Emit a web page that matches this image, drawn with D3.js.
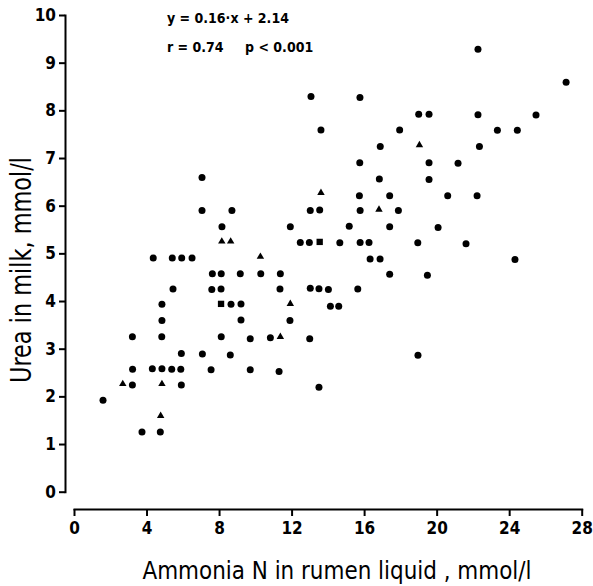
<!DOCTYPE html>
<html>
<head>
<meta charset="utf-8">
<script src="https://cdn.jsdelivr.net/npm/d3@7"></script>
<style>
  body { margin: 0; background: #fff; }
  svg text { font-family: "DejaVu Sans Condensed", "DejaVu Sans", sans-serif; fill: #000; }
  .axis path, .axis line { stroke: #000; stroke-width: 2; }
  .axis text { font-size: 17px; font-weight: bold; }
</style>
</head>
<body>
<svg id="chart" width="593" height="586"></svg>
<script>
// ammonia N (x) vs urea in milk (y)
var circlePoints = [
  [1.60,1.92],[3.22,3.25],[3.23,2.57],[3.22,2.24],[3.75,1.25],[4.37,4.90],[4.32,2.58],[4.76,1.25],
  [4.85,3.93],[4.85,3.59],[4.84,3.25],[4.85,2.58],[5.42,4.90],[5.46,4.25],[5.39,2.57],[5.94,4.90],
  [5.92,2.90],[5.89,2.57],[5.92,2.24],[6.51,4.90],[7.06,6.59],[7.06,5.90],[7.08,2.89],[7.56,2.56],
  [7.63,4.57],[7.60,4.24],[8.12,4.57],[8.16,5.56],[8.11,4.25],[8.12,3.25],[8.71,5.90],[8.66,3.93],
  [8.62,2.87],[9.17,4.57],[9.21,3.94],[9.21,3.60],[9.72,3.21],[9.72,2.56],[10.30,4.57],[10.83,3.23],
  [11.31,2.52],[11.38,4.57],[11.36,4.25],[11.93,5.56],[11.91,3.59],[12.48,5.23],[12.98,5.23],[14.66,5.22],
  [15.78,5.23],[16.27,5.23],[18.96,5.22],[21.62,5.20],[13.03,4.27],[13.51,4.26],[14.03,4.24],[15.65,4.25],
  [14.14,3.89],[14.60,3.89],[13.00,3.21],[13.51,2.19],[13.07,8.29],[15.77,8.27],[22.28,9.28],[27.14,8.59],
  [19.01,7.92],[19.58,7.92],[22.28,7.91],[25.48,7.90],[13.62,7.59],[17.96,7.59],[23.35,7.58],[24.45,7.58],
  [16.89,7.24],[22.36,7.24],[15.76,6.90],[19.58,6.90],[21.18,6.89],[16.84,6.56],[19.58,6.55],[15.74,6.21],
  [17.41,6.21],[20.61,6.21],[22.23,6.21],[13.03,5.90],[13.55,5.91],[15.78,5.90],[17.89,5.90],[15.18,5.57],
  [17.41,5.56],[20.08,5.54],[16.33,4.88],[16.88,4.88],[24.32,4.87],[17.41,4.56],[19.49,4.54],[18.97,2.86]
];
var trianglePoints = [
  [2.69,2.26],[4.85,2.26],[4.78,1.59],[8.15,5.25],[8.64,5.25],[10.28,4.93],
  [11.38,3.25],[11.93,3.94],[13.62,6.27],[16.82,5.92],[19.05,7.27]
];
var squarePoints = [[8.11,3.94],[13.55,5.24]];

var xTicks = [0, 4, 8, 12, 16, 20, 24, 28];
var yTicks = [0, 1, 2, 3, 4, 5, 6, 7, 8, 9, 10];

var xTitle = "Ammonia N in rumen liquid , mmol/l";
var yTitle = "Urea in milk, mmol/l";
var regLine = "y = 0.16\u00b7x + 2.14";
var regR = "r = 0.74";
var regP = "p < 0.001";

var svg = d3.select("#chart");

var x = d3.scaleLinear().domain([0, 28]).range([74, 581.7]);
var y = d3.scaleLinear().domain([0, 10]).range([491.7, 15]);

svg.append("g")
    .attr("class", "axis")
    .attr("transform", "translate(65,0)")
    .call(d3.axisLeft(y).tickValues(yTicks).tickSize(6).tickSizeOuter(0).tickPadding(3));

svg.append("g")
    .attr("class", "axis")
    .attr("transform", "translate(0,509)")
    .call(d3.axisBottom(x).tickValues(xTicks).tickSize(7).tickSizeOuter(0).tickPadding(6));

svg.selectAll(".axis .domain").attr("stroke-linecap", "square");

svg.selectAll("circle.pt")
    .data(circlePoints)
  .enter().append("circle")
    .attr("class", "pt")
    .attr("cx", function(d) { return x(d[0]); })
    .attr("cy", function(d) { return y(d[1]); })
    .attr("r", 3.5)
    .style("fill", "#000");

svg.selectAll("path.tri")
    .data(trianglePoints)
  .enter().append("path")
    .attr("class", "tri")
    .attr("d", d3.symbol().type(d3.symbolTriangle).size(24))
    .attr("transform", function(d) { return "translate(" + x(d[0]) + "," + y(d[1]) + ")"; })
    .style("fill", "#000");

svg.selectAll("path.sq")
    .data(squarePoints)
  .enter().append("path")
    .attr("class", "sq")
    .attr("d", d3.symbol().type(d3.symbolSquare).size(40))
    .attr("transform", function(d) { return "translate(" + x(d[0]) + "," + y(d[1]) + ")"; })
    .style("fill", "#000");

// regression note
svg.append("text").attr("x", 167).attr("y", 23).style("font-size", "14px").style("font-weight", "bold").text(regLine);
svg.append("text").attr("x", 167).attr("y", 52).style("font-size", "14px").style("font-weight", "bold").text(regR);
svg.append("text").attr("x", 245).attr("y", 52).style("font-size", "14px").style("font-weight", "bold").text(regP);

svg.append("text")
    .attr("x", 337)
    .attr("y", 579)
    .attr("text-anchor", "middle")
    .attr("textLength", 389)
    .attr("lengthAdjust", "spacingAndGlyphs")
    .style("font-size", "25px")
    .text(xTitle);

svg.append("text")
    .attr("transform", "translate(31,270) rotate(-90)")
    .attr("text-anchor", "middle")
    .attr("textLength", 226)
    .attr("lengthAdjust", "spacingAndGlyphs")
    .style("font-size", "28px")
    .text(yTitle);
</script>
</body>
</html>
